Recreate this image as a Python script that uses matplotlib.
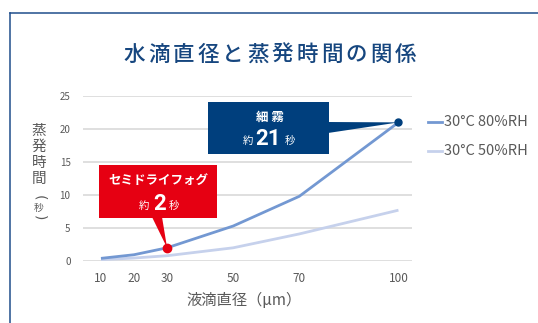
"""Droplet diameter vs. evaporation time, with callouts for semi-dry fog and fine mist."""
import matplotlib
matplotlib.use("Agg")
import matplotlib.pyplot as plt
from matplotlib.patches import Rectangle, Polygon
from matplotlib.lines import Line2D

plt.rcParams["font.family"] = ["Noto Sans CJK JP", "DejaVu Sans"]

W, H = 538, 323

diameters = [10, 20, 30, 50, 70, 100]
time_rh80 = [0.4, 0.95, 2.0, 5.3, 9.8, 21.0]
time_rh50 = [0.2, 0.45, 0.8, 2.0, 4.1, 7.7]
series_labels = ["30°C 80%RH", "30°C 50%RH"]
y_ticks = [0, 5, 10, 15, 20, 25]

title = "水滴直径と蒸発時間の関係"
x_title = "液滴直径（μm）"
y_title_chars = ["蒸", "発", "時", "間"]
semi_name, semi_value = "セミドライフォグ", 2
mist_name, mist_value = "細 霧", 21

NAVY = "#003f7d"
RED = "#e60012"
BLUE = "#7398d2"
PALE = "#c6d1ec"
GREY_TXT = "#595959"
FRAME = "#1f4e8c"


def fx(x):
    return x / W


def fy(y):
    return 1 - y / H


fig = plt.figure(figsize=(W / 100, H / 100), dpi=100)
fig.patch.set_facecolor("white")

# outer frame (only top and left edges are visible)
fig.add_artist(Line2D([fx(9.5), fx(9.5)], [fy(12.5), 0], color=FRAME, lw=1.1))
fig.add_artist(Line2D([fx(9.5), 1], [fy(12.5), fy(12.5)], color=FRAME, lw=1.1))

# title, spaced out character by character
pitch = 24.6
x0 = 270 - pitch * (len(title) - 1) / 2
for i, ch in enumerate(title):
    fig.text(fx(x0 + i * pitch), fy(55), ch, ha="center", va="center",
             fontsize=15.5, color="#16467f", fontweight="medium")

ax = fig.add_axes([fx(83), fy(261), (412 - 83) / W, (261 - 96) / H])
ax.set_xlim(4.56, 104.1)
ax.set_ylim(0, 25)
for s in ax.spines.values():
    s.set_visible(False)
ax.set_yticks(y_ticks)
ax.set_xticks(diameters)
ax.tick_params(length=0, colors=GREY_TXT)
ax.tick_params(axis="y", labelsize=7, pad=9)
ax.tick_params(axis="x", labelsize=8.5, pad=8)
ax.grid(axis="y", color="#d9d9d9", lw=1.2)
ax.set_axisbelow(True)

ax.plot(diameters, time_rh50, color=PALE, lw=2.0, solid_capstyle="butt")
ax.plot(diameters, time_rh80, color=BLUE, lw=2.0, solid_capstyle="butt")

# axis titles; the y title is set vertically, brackets turned on their side
fig.text(fx(244), fy(300), x_title, ha="center", va="center", fontsize=11, color=GREY_TXT)
for i, ch in enumerate(y_title_chars):
    fig.text(fx(39), fy(131 + i * 16), ch, ha="center", va="center", fontsize=10.5, color=GREY_TXT)
fig.text(fx(39), fy(198), "(", ha="center", va="center", fontsize=10, color=GREY_TXT,
         rotation=-90, family="DejaVu Sans")
fig.text(fx(39), fy(208), "秒", ha="center", va="center", fontsize=7, color=GREY_TXT)
fig.text(fx(39), fy(218), ")", ha="center", va="center", fontsize=10, color=GREY_TXT,
         rotation=-90, family="DejaVu Sans")

# legend
for i, (lab, col) in enumerate(zip(series_labels, [BLUE, PALE])):
    yy = 122 + i * 29
    fig.add_artist(Line2D([fx(428), fx(442)], [fy(yy), fy(yy)], color=col, lw=2.0))
    fig.text(fx(444), fy(yy), lab, ha="left", va="center", fontsize=10.5, color=GREY_TXT)


def to_px(xd, yd):
    px, py = ax.transData.transform((xd, yd))
    return px * W / fig.bbox.width, H - py * H / fig.bbox.height


# semi-dry fog callout
tip_x, tip_y = to_px(diameters[2], semi_value)
fig.add_artist(Rectangle((fx(99), fy(218)), (217 - 99) / W, (218 - 165) / H,
                         transform=fig.transFigure, color=RED, lw=0))
fig.add_artist(Polygon([(fx(152), fy(217)), (fx(162), fy(217)), (fx(tip_x), fy(tip_y))],
                       closed=True, transform=fig.transFigure, color=RED, lw=0))
fig.text(fx(158), fy(180), semi_name, ha="center", va="center", fontsize=9,
         color="white", fontweight="bold")
fig.text(fx(143.5), fy(206), "約", ha="center", va="center", fontsize=7.5, color="white")
fig.text(fx(160), fy(204), str(semi_value), ha="center", va="center", fontsize=16,
         color="white", fontweight="bold", family="Roboto")
fig.text(fx(174), fy(206), "秒", ha="center", va="center", fontsize=7.5, color="white")
ax.plot([diameters[2]], [semi_value], "o", color=RED, ms=6, zorder=5)

# fine mist callout
tip_x, tip_y = to_px(diameters[-1], mist_value)
fig.add_artist(Rectangle((fx(208), fy(154)), (329 - 208) / W, (154 - 102) / H,
                         transform=fig.transFigure, color=NAVY, lw=0))
fig.add_artist(Polygon([(fx(328), fy(122)), (fx(328), fy(133)), (fx(tip_x), fy(tip_y))],
                       closed=True, transform=fig.transFigure, color=NAVY, lw=0))
fig.text(fx(270), fy(117), mist_name, ha="center", va="center", fontsize=9,
         color="white", fontweight="bold")
fig.text(fx(248), fy(141), "約", ha="center", va="center", fontsize=7.5, color="white")
fig.text(fx(268.5), fy(139), str(mist_value), ha="center", va="center", fontsize=16,
         color="white", fontweight="bold", family="Roboto")
fig.text(fx(290), fy(141), "秒", ha="center", va="center", fontsize=7.5, color="white")
ax.plot([diameters[-1]], [mist_value], "o", color=NAVY, ms=5, zorder=5, clip_on=False)

fig.savefig("out.png", dpi=100)
